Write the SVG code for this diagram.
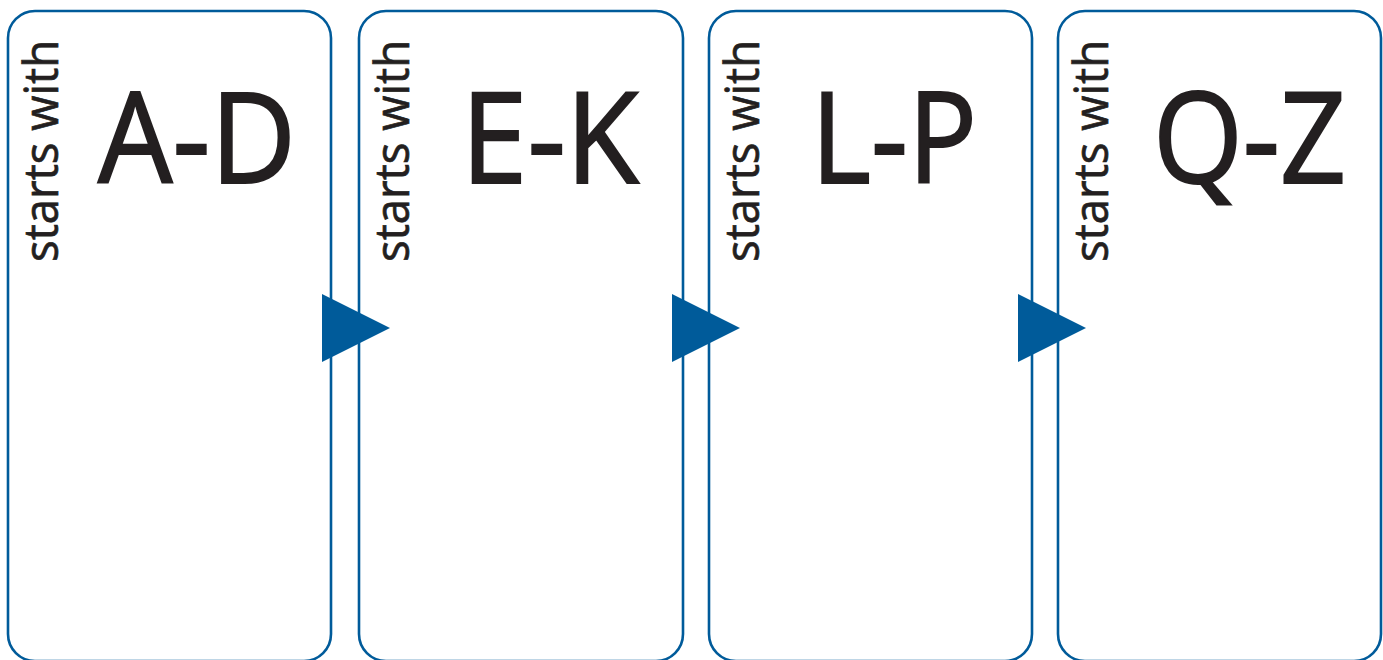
<svg xmlns="http://www.w3.org/2000/svg" width="1383" height="660" viewBox="0 0 1383 660">
<style>
.box{fill:#fff;stroke:#005b9a;stroke-width:2.6}
.arrow{fill:#005b9a}
.sw{font-family:"Open Sans","Liberation Sans",sans-serif;font-size:48px;fill:#231f20;stroke:#231f20;stroke-width:0.7}
.big{font-family:"Open Sans","Liberation Sans",sans-serif;font-size:127px;fill:#231f20;stroke:#231f20;stroke-width:2}
</style>
<rect width="1383" height="660" fill="#fff"/>
<g id="node-ad">
<rect class="box" x="8" y="11" width="323" height="650" rx="27"/>
<text class="sw" transform="translate(58,262) rotate(-90)" textLength="222" lengthAdjust="spacingAndGlyphs">starts with</text>
<text class="big" x="98" y="183" textLength="198" lengthAdjust="spacingAndGlyphs">A-D</text>
</g>
<g id="node-ek">
<rect class="box" x="359" y="11" width="324" height="650" rx="27"/>
<text class="sw" transform="translate(409,262) rotate(-90)" textLength="222" lengthAdjust="spacingAndGlyphs">starts with</text>
<text class="big" x="461" y="183" textLength="178" lengthAdjust="spacingAndGlyphs">E-K</text>
</g>
<g id="node-lp">
<rect class="box" x="709" y="11" width="323" height="650" rx="27"/>
<text class="sw" transform="translate(759,262) rotate(-90)" textLength="222" lengthAdjust="spacingAndGlyphs">starts with</text>
<text class="big" x="811" y="183" textLength="166" lengthAdjust="spacingAndGlyphs">L-P</text>
</g>
<g id="node-qz">
<rect class="box" x="1058" y="11" width="323" height="650" rx="27"/>
<text class="sw" transform="translate(1108,262) rotate(-90)" textLength="222" lengthAdjust="spacingAndGlyphs">starts with</text>
<text class="big" x="1153" y="183" textLength="193" lengthAdjust="spacingAndGlyphs">Q-Z</text>
</g>
<g id="connectors">
<polygon class="arrow" points="322,294 390,328 322,362"/>
<polygon class="arrow" points="672,294 740,328 672,362"/>
<polygon class="arrow" points="1018,294 1086,328 1018,362"/>
</g>
</svg>
